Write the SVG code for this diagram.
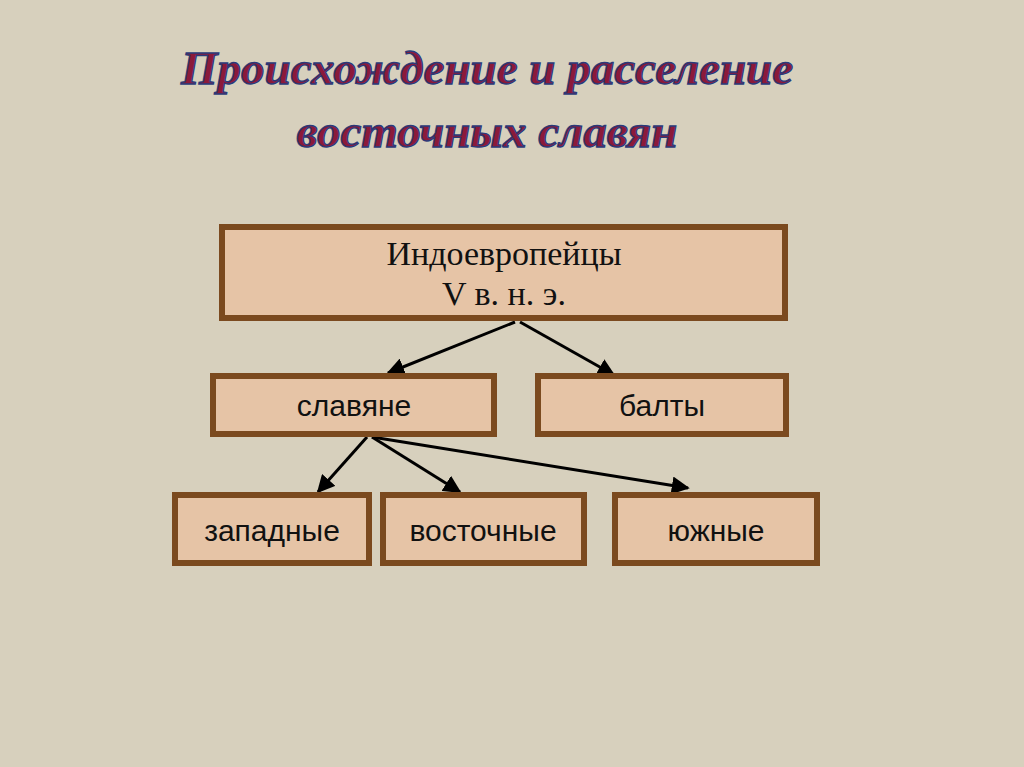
<svg xmlns="http://www.w3.org/2000/svg" width="1024" height="767" viewBox="0 0 1024 767">
<style>
.box{fill:#e6c4a6;stroke:#7b4a1f;stroke-width:6}
.lbl{font-family:"Liberation Sans",Arial,sans-serif;font-size:30px;fill:#111;text-anchor:middle}
.ser{font-family:"Liberation Serif","Times New Roman",serif;font-size:34px;fill:#111;text-anchor:middle}
.ttl{font-family:"Liberation Serif",serif;font-style:italic;font-weight:bold;font-size:47px;fill:#8b1a3a;stroke:#2a3a7a;stroke-width:1.3;text-anchor:middle}
.ln{stroke:#000;stroke-width:3;fill:none;marker-end:url(#ah)}
</style>
<defs>
<marker id="ah" viewBox="0 0 10 10" refX="9" refY="5" markerWidth="6" markerHeight="6" orient="auto"><path d="M0,0L10,5L0,10z" fill="#000"/></marker>
</defs>
<rect width="1024" height="767" fill="#d7d0bd"/>
<g id="title">
<text class="ttl" x="487" y="84">Происхождение и расселение</text>
<text class="ttl" x="487" y="147">восточных славян</text>
</g>
<g id="connectors">
<line class="ln" x1="515" y1="322" x2="388" y2="373"/>
<line class="ln" x1="520" y1="322" x2="614" y2="375"/>
<line class="ln" x1="367" y1="437" x2="318" y2="492"/>
<line class="ln" x1="372" y1="437" x2="460" y2="492"/>
<line class="ln" x1="372" y1="437" x2="688" y2="488"/>
</g>
<g id="n-indo"><rect class="box" x="222" y="227" width="563" height="91"/><text class="ser" x="504" y="265">Индоевропейцы</text><text class="ser" x="504" y="305">V в. н. э.</text></g>
<g id="n-slav"><rect class="box" x="213" y="376" width="281" height="58"/><text class="lbl" x="354" y="416">славяне</text></g>
<g id="n-balt"><rect class="box" x="538" y="376" width="248" height="58"/><text class="lbl" x="662" y="416">балты</text></g>
<g id="n-west"><rect class="box" x="175" y="495" width="194" height="68"/><text class="lbl" x="272" y="541">западные</text></g>
<g id="n-east"><rect class="box" x="383" y="495" width="201" height="68"/><text class="lbl" x="483" y="541">восточные</text></g>
<g id="n-south"><rect class="box" x="615" y="495" width="202" height="68"/><text class="lbl" x="716" y="541">южные</text></g>
</svg>
